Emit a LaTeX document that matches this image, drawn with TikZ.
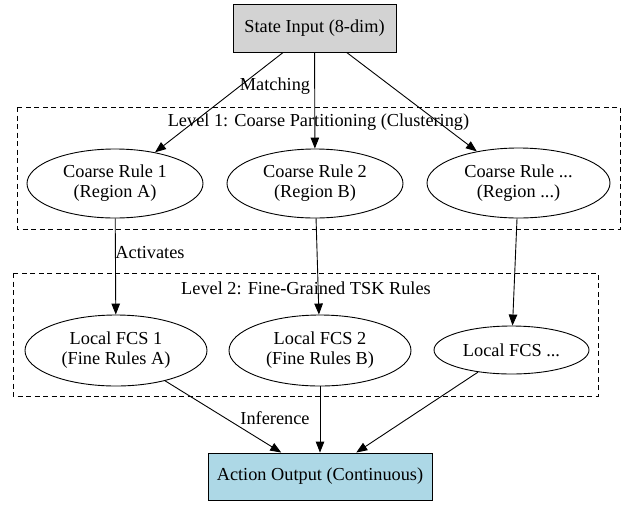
\documentclass[tikz,border=0pt]{standalone}
\usepackage{fontspec}
\setmainfont{Liberation Serif}
\usetikzlibrary{shapes.geometric, arrows.meta}
\definecolor{stategray}{HTML}{D3D3D3}
\definecolor{actionblue}{HTML}{ADD8E6}

\begin{document}
\begin{tikzpicture}[x=1pt,y=-1pt,
    every node/.style={font=\fontsize{18.3}{20}\selectfont, align=center, inner sep=0pt},
    box/.style={draw, line width=0.9pt, rectangle},
    rule/.style={draw, line width=0.9pt, ellipse},
    cluster/.style={draw, line width=0.9pt, dash pattern=on 5pt off 3.5pt},
    edge/.style={line width=0.9pt, -{Triangle[length=11pt,width=8.5pt]}}]
    \useasboundingbox (0,0) rectangle (631,504);
    \draw[cluster] (17,107) rectangle (620,229);
    \draw[cluster] (13,273) rectangle (598,396);
    \node (lvlone) at (318.5,122) {Level 1: Coarse Partitioning (Clustering)};
    \node (lvltwo) at (306,288) {Level 2: Fine-Grained TSK Rules};
    \node[box, fill=stategray, minimum width=163pt, minimum height=48pt] (state) at (314.5,28) {State Input (8-dim)};
    \node[rule, minimum width=176pt, minimum height=69pt] (coarseA) at (115,183.5) {Coarse Rule 1\\(Region A)};
    \node[rule, minimum width=176pt, minimum height=69pt] (coarseB) at (315,183.5) {Coarse Rule 2\\(Region B)};
    \node[rule, minimum width=183pt, minimum height=70pt] (coarseN) at (518.5,183) {Coarse Rule ...\\(Region ...)};
    \node[rule, minimum width=182pt, minimum height=71pt] (localA) at (116,350.5) {Local FCS 1\\(Fine Rules A)};
    \node[rule, minimum width=182pt, minimum height=71pt] (localB) at (320,350.5) {Local FCS 2\\(Fine Rules B)};
    \node[rule, minimum width=155pt, minimum height=48pt] (localN) at (511.5,350) {Local FCS ...};
    \node[box, fill=actionblue, minimum width=224pt, minimum height=47pt] (action) at (320,476.5) {Action Output (Continuous)};
    \draw[edge] (state) -- (coarseA);
    \draw[edge] (state) -- (coarseB);
    \draw[edge] (state) -- (coarseN);
    \draw[edge] (coarseA) -- (localA);
    \draw[edge] (coarseB) -- (localB);
    \draw[edge] (coarseN) -- (localN);
    \draw[edge] (localA) -- (action);
    \draw[edge] (localB) -- (action);
    \draw[edge] (localN) -- (action);
    \node (lblmatch) at (275,86) {Matching};
    \node (lblact) at (150,253) {Activates};
    \node (lblinf) at (275,418) {Inference};
  \end{tikzpicture}
\end{document}
